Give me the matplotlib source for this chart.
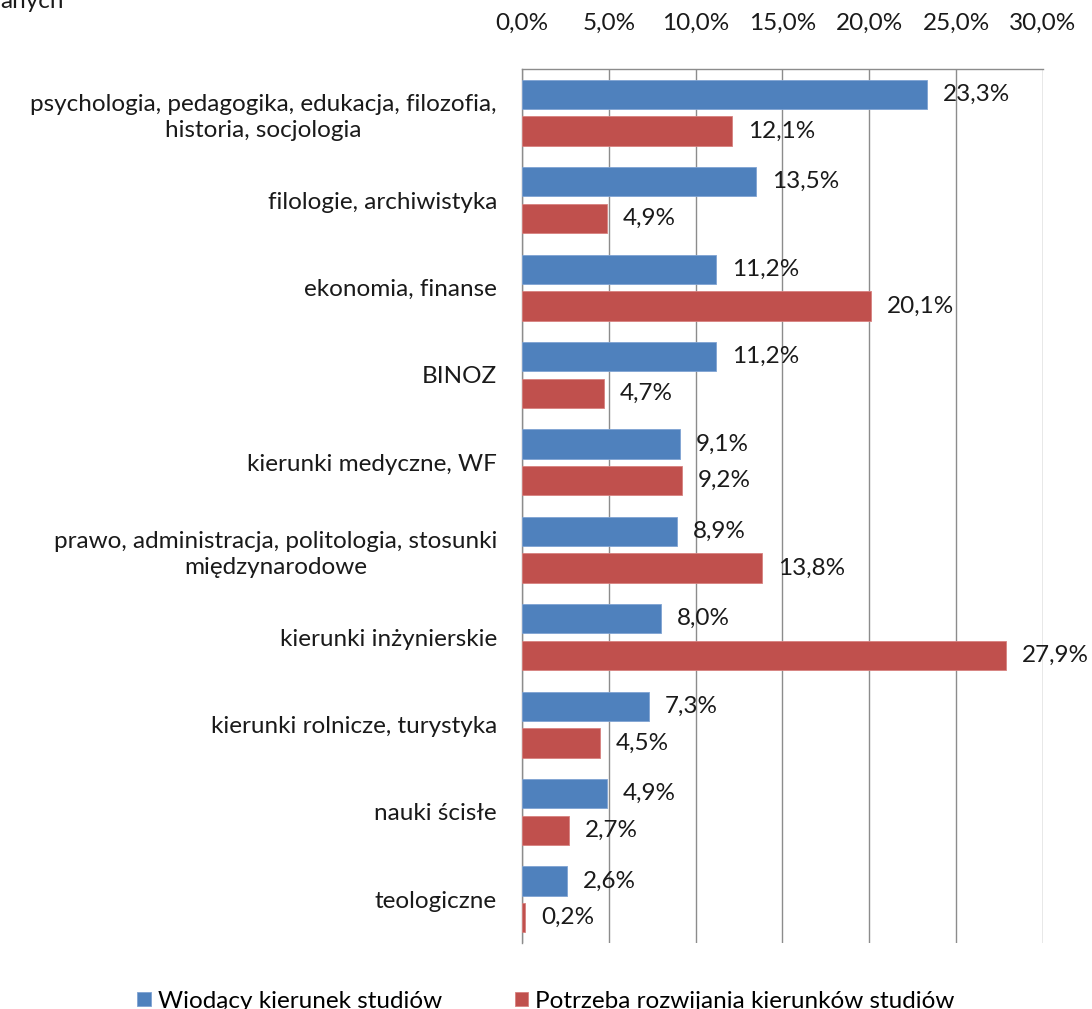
import matplotlib
matplotlib.use("Agg")
import matplotlib.pyplot as plt
import numpy as np

## data
categories = [
    "psychologia, pedagogika, edukacja, filozofia,\nhistoria, socjologia",
    "filologie, archiwistyka",
    "ekonomia, finanse",
    "BINOZ",
    "kierunki medyczne, WF",
    "prawo, administracja, politologia, stosunki\nmiędzynarodowe",
    "kierunki inżynierskie",
    "kierunki rolnicze, turystyka",
    "nauki ścisłe",
    "teologiczne",
]
wiodacy = [23.3, 13.5, 11.2, 11.2, 9.1, 8.9, 8.0, 7.3, 4.9, 2.6]
potrzeba = [12.1, 4.9, 20.1, 4.7, 9.2, 13.8, 27.9, 4.5, 2.7, 0.2]
series_names = ["Wiodący kierunek studiów", "Potrzeba rozwijania kierunków studiów"]
xticks = [0, 5, 10, 15, 20, 25, 30]

## style
plt.rcParams["font.family"] = ["Lato", "DejaVu Sans"]
fs = 17.5
blue = "#4F81BD"
red = "#C0504D"
grid_col = "#8C8C8C"
txt_col = "#1a1a1a"

fig = plt.figure(figsize=(10.92, 10.09), dpi=100)
ax = fig.add_axes([0.478, 0.0654, 0.477, 0.8662])

y = np.arange(len(categories))
h = 0.335
off = 0.21
b1 = ax.barh(y - off, wiodacy, height=h, color=blue, edgecolor="#7FA3D3", linewidth=0.6,
             label=series_names[0], zorder=3)
b2 = ax.barh(y + off, potrzeba, height=h, color=red, edgecolor="#D7817F", linewidth=0.6,
             label=series_names[1], zorder=3)

## data labels
for bars, vals in ((b1, wiodacy), (b2, potrzeba)):
    for bar, v in zip(bars, vals):
        ax.annotate(f"{v:.1f}%".replace(".", ","),
                    (bar.get_width(), bar.get_y() + bar.get_height() / 2),
                    xytext=(11.5, 0), textcoords="offset points",
                    ha="left", va="center", fontsize=fs, color=txt_col, zorder=4)

ax.set_xlim(0, 30)
ax.set_ylim(len(categories) - 0.5, -0.5)
ax.set_xticks(xticks)
ax.set_xticklabels([f"{t:.1f}%".replace(".", ",") for t in xticks], fontsize=fs, color=txt_col)
ax.xaxis.tick_top()
ax.tick_params(axis="x", length=0, pad=25)
ax.set_yticks(y)
ax.set_yticklabels(categories, fontsize=fs, color=txt_col, multialignment="center",
                   linespacing=1.3)
ax.tick_params(axis="y", length=0, pad=18)

ax.grid(axis="x", color=grid_col, linewidth=1.0, zorder=0)
for s in ("right", "bottom"):
    ax.spines[s].set_visible(False)
for s in ("top", "left"):
    ax.spines[s].set_color(grid_col)
    ax.spines[s].set_linewidth(1.0)

## title fragment, cut off at the top left as in the original
fig.text(0.0, 1.0 + 9 / 1009, "anych", fontsize=fs, ha="left", va="top", color=txt_col)

fig.legend(handles=[b1, b2], labels=series_names, loc="center", ncol=2,
           bbox_to_anchor=(0.5, 1 - 1001 / 1009), frameon=False, fontsize=fs,
           handlelength=0.55, handleheight=0.55, handletextpad=0.3, columnspacing=3.0)

plt.savefig("out.png", dpi=100)
